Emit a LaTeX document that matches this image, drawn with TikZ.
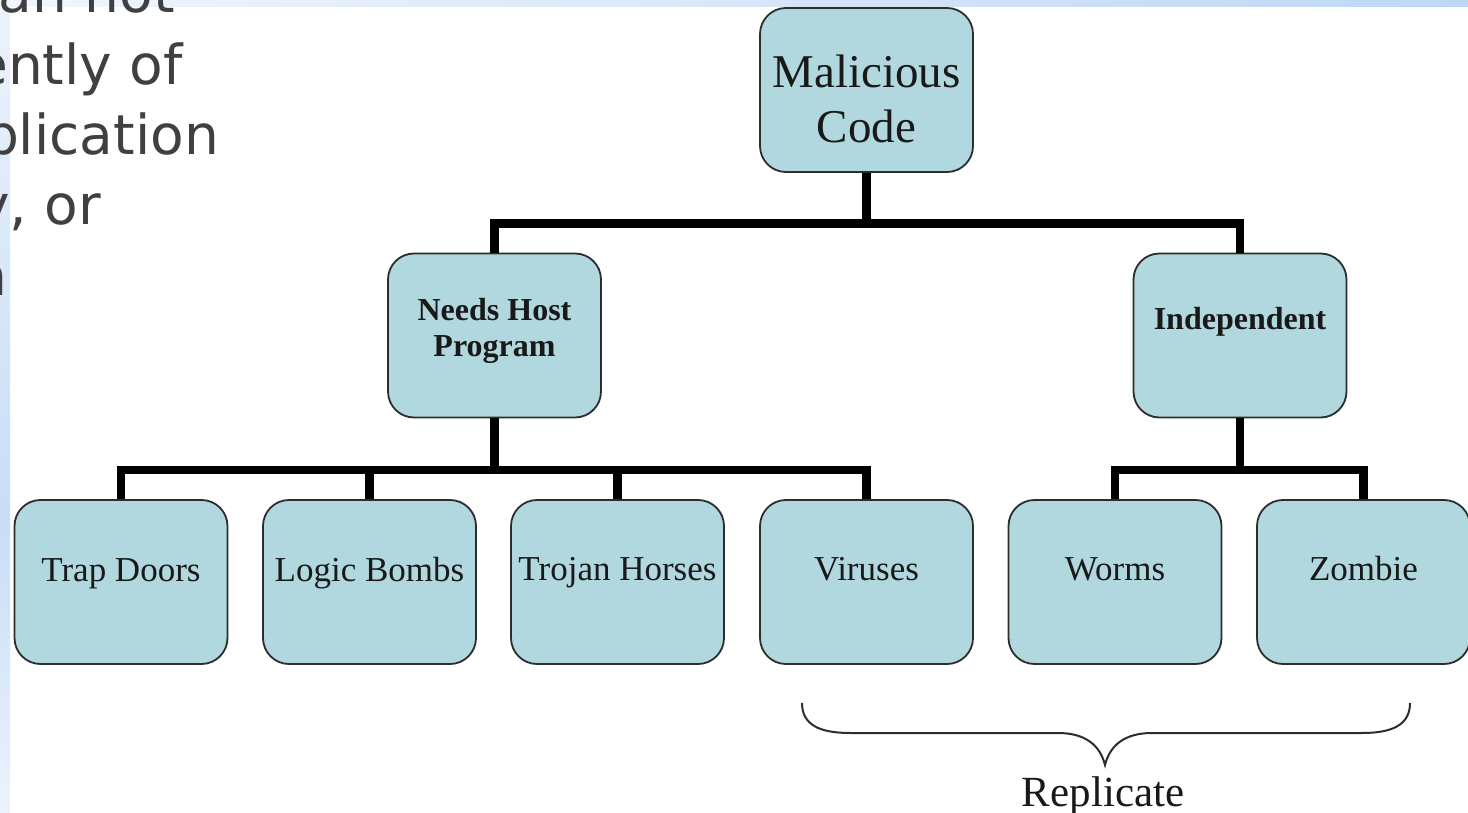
\documentclass[tikz,border=0pt]{standalone}
\usepackage{fontspec}
\setmainfont{Liberation Serif}
\newfontfamily\sidefont{DejaVu Sans}
\usetikzlibrary{calc}
\definecolor{boxfill}{RGB}{177,216,222}
\definecolor{boxline}{RGB}{45,45,45}
\definecolor{sidetext}{RGB}{64,64,64}
\definecolor{bandA}{RGB}{241,246,252}
\definecolor{bandB}{RGB}{190,215,244}
\definecolor{stripA}{RGB}{236,243,252}
\definecolor{stripB}{RGB}{200,221,246}
\begin{document}
\begin{tikzpicture}[x=1pt,y=-1pt,
  box/.style={draw=boxline, line width=1.8pt, fill=boxfill, rounded corners=26pt,
    minimum width=213pt, minimum height=164pt, inner sep=0pt},
  conn/.style={line width=8.5pt, black, line join=miter},
  lbl/.style={anchor=base, inner sep=0pt, text=black!90},
  small/.style={lbl, font=\fontsize{35pt}{42pt}\selectfont},
  mid/.style={lbl, font=\fontsize{32pt}{38pt}\selectfont\bfseries},
  big/.style={lbl, font=\fontsize{47pt}{55pt}\selectfont},
  side/.style={anchor=base east, inner sep=0pt, text=sidetext, font=\sidefont\fontsize{55pt}{66pt}\selectfont},
  bracepath/.style={draw=boxline, line width=2pt}
]
\useasboundingbox (0,0) rectangle (1468,813);
\fill[white] (0,0) rectangle (1468,813);
% background bands
\shade[left color=bandA, right color=bandB] (0,0) rectangle (1468,7);
\shade[top color=stripA, bottom color=stripB] (0,0) rectangle (10,520);
\shade[top color=stripB, bottom color=stripA] (0,520) rectangle (10,813);

% side text fragments
\node[side] (s1) at (175,13) {can not};
\node[side] (s2) at (183,85) {ently of};
\node[side] (s3) at (219,155) {plication};
\node[side] (s4) at (101,225) {y, or};
\node[side] (s5) at (8,295) {n};

% boxes
\node[box] (mc)  at (866.5,90) {};
\node[box] (nh)  at (494.5,335.5) {};
\node[box] (ind) at (1240,335.5) {};
\node[box] (td)  at (121,582) {};
\node[box] (lb)  at (369.5,582) {};
\node[box] (th)  at (617.5,582) {};
\node[box] (vi)  at (866.5,582) {};
\node[box] (wo)  at (1115,582) {};
\node[box] (zo)  at (1363.5,582) {};

% labels
\node[big] (mc1) at ($(mc.center)+(0,-2)$) {Malicious};
\node[big] (mc2) at ($(mc.center)+(0,53)$) {Code};
\node[mid] (nh1) at ($(nh.center)+(0,-15.5)$) {Needs Host};
\node[mid] (nh2) at ($(nh.center)+(0,20.5)$) {Program};
\node[mid] (ind1) at ($(ind.center)+(0,-5.5)$) {Independent};
\node[small] (td1) at ($(td.center)+(0,-1)$) {Trap Doors};
\node[small] (lb1) at ($(lb.center)+(0,-1)$) {Logic Bombs};
\node[small] (th1) at ($(th.center)+(0,-2)$) {Trojan Horses};
\node[small] (vi1) at ($(vi.center)+(0,-2)$) {Viruses};
\node[small] (wo1) at ($(wo.center)+(0,-2)$) {Worms};
\node[small] (zo1) at ($(zo.center)+(0,-2)$) {Zombie};

% connectors
\coordinate (j1) at (866.5,223.5);
\coordinate (j2) at (494.5,470);
\coordinate (j3) at (1240,470);
\draw[conn] (mc.south) -- (j1);
\draw[conn] (nh.north) |- (j1) -| (ind.north);
\draw[conn] (nh.south) -- (j2);
\draw[conn] (td.north) |- (j2) -| (vi.north);
\draw[conn] (lb.north) -- (lb.north |- j2);
\draw[conn] (th.north) -- (th.north |- j2);
\draw[conn] (ind.south) -- (j3);
\draw[conn] (wo.north) |- (j3) -| (zo.north);

% brace
\coordinate (bl) at (802,703);
\coordinate (br) at (1410,703);
\coordinate (bt) at (1105,765);
\draw[bracepath] (bl) .. controls (802,725) and (820,733) .. (850,733) -- (1058,733)
  .. controls (1085,733) and (1100,745) .. (bt)
  .. controls (1110,745) and (1125,733) .. (1152,733) -- (1362,733)
  .. controls (1392,733) and (1410,725) .. (br);
\node[lbl, font=\fontsize{43pt}{50pt}\selectfont] (rep) at (1103,806) {Replicate};
\end{tikzpicture}
\end{document}
